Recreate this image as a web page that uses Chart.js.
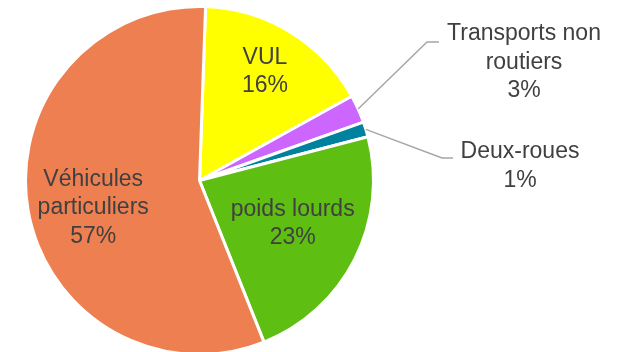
<!DOCTYPE html>
<html lang="fr">
<head>
    <meta charset="UTF-8">
    <title>Répartition par mode</title>
    <script src="https://cdn.jsdelivr.net/npm/chart.js"></script>
    <style>
        html, body {
            margin: 0;
            padding: 0;
            background: #ffffff;
            overflow: hidden;
        }

        .container {
            width: 624px;
            height: 352px;
            overflow: hidden;
        }
    </style>
</head>
<body>
    <div class="container">
        <!-- slightly taller than the view: the pie's bottom is cut like the original -->
        <canvas id="chartCanvas" width="624" height="356"></canvas>
    </div>

    <script>
        // categories, clockwise from the top
        const categories = [
            ['VUL'],
            ['Transports non', 'routiers'],
            ['Deux-roues'],
            ['poids lourds'],
            ['Véhicules', 'particuliers']
        ];
        const shares = [16.4, 2.6, 1.4, 23.0, 56.6];
        const sliceColors = ['#FFFF00', '#CC66FF', '#00819E', '#5EBE12', '#EE7F51'];

        const textColor = '#404040';
        const labelFont = '23px "Liberation Sans", Arial, sans-serif';
        const lineHeight = 28.5;

        // inside labels: radial fraction; outside labels: elbow + text anchor
        const labelPlacement = [
            { inside: true, r: 0.72, shift: [0, -2] },
            { inside: false, elbow: [427, 42], end: [439, 42], text: [524, 34] },
            { inside: false, elbow: [442, 158], end: [453, 158], text: [520, 152] },
            { inside: true, r: 0.6, shift: [0, -4] },
            { inside: true, r: 0.62, shift: [0, 9] }
        ];

        const pieLabels = {
            id: 'pieLabels',
            afterDraw(chart) {
                const ctx = chart.ctx;
                const meta = chart.getDatasetMeta(0);
                ctx.save();
                ctx.font = labelFont;
                ctx.fillStyle = textColor;
                ctx.textAlign = 'center';
                ctx.textBaseline = 'middle';
                meta.data.forEach((arc, i) => {
                    const p = labelPlacement[i];
                    const mid = (arc.startAngle + arc.endAngle) / 2;
                    const lines = categories[i].concat([Math.round(shares[i]) + '%']);
                    let cx, cy;
                    if (p.inside) {
                        cx = arc.x + Math.cos(mid) * arc.outerRadius * p.r + p.shift[0];
                        cy = arc.y + Math.sin(mid) * arc.outerRadius * p.r + p.shift[1];
                        const top = cy - (lines.length - 1) * lineHeight / 2;
                        lines.forEach((t, k) => ctx.fillText(t, cx, top + k * lineHeight));
                    } else {
                        const sx = arc.x + Math.cos(mid) * arc.outerRadius;
                        const sy = arc.y + Math.sin(mid) * arc.outerRadius;
                        ctx.beginPath();
                        ctx.strokeStyle = '#A6A6A6';
                        ctx.lineWidth = 1.5;
                        ctx.moveTo(sx, sy);
                        ctx.lineTo(p.elbow[0], p.elbow[1]);
                        ctx.lineTo(p.end[0], p.end[1]);
                        ctx.stroke();
                        lines.forEach((t, k) => ctx.fillText(t, p.text[0], p.text[1] + k * lineHeight));
                    }
                });
                ctx.restore();
            }
        };

        const chart = new Chart(document.getElementById('chartCanvas'), {
            type: 'pie',
            data: {
                labels: categories.map(c => c.join(' ')),
                datasets: [{
                    data: shares,
                    backgroundColor: sliceColors,
                    borderColor: '#ffffff',
                    borderWidth: 3
                }]
            },
            options: {
                responsive: false,
                animation: false,
                rotation: 2,
                layout: {
                    padding: { left: 24, right: 249, top: 5, bottom: 0 }
                },
                plugins: {
                    legend: { display: false },
                    tooltip: { enabled: false }
                }
            },
            plugins: [pieLabels]
        });
    </script>
</body>
</html>
